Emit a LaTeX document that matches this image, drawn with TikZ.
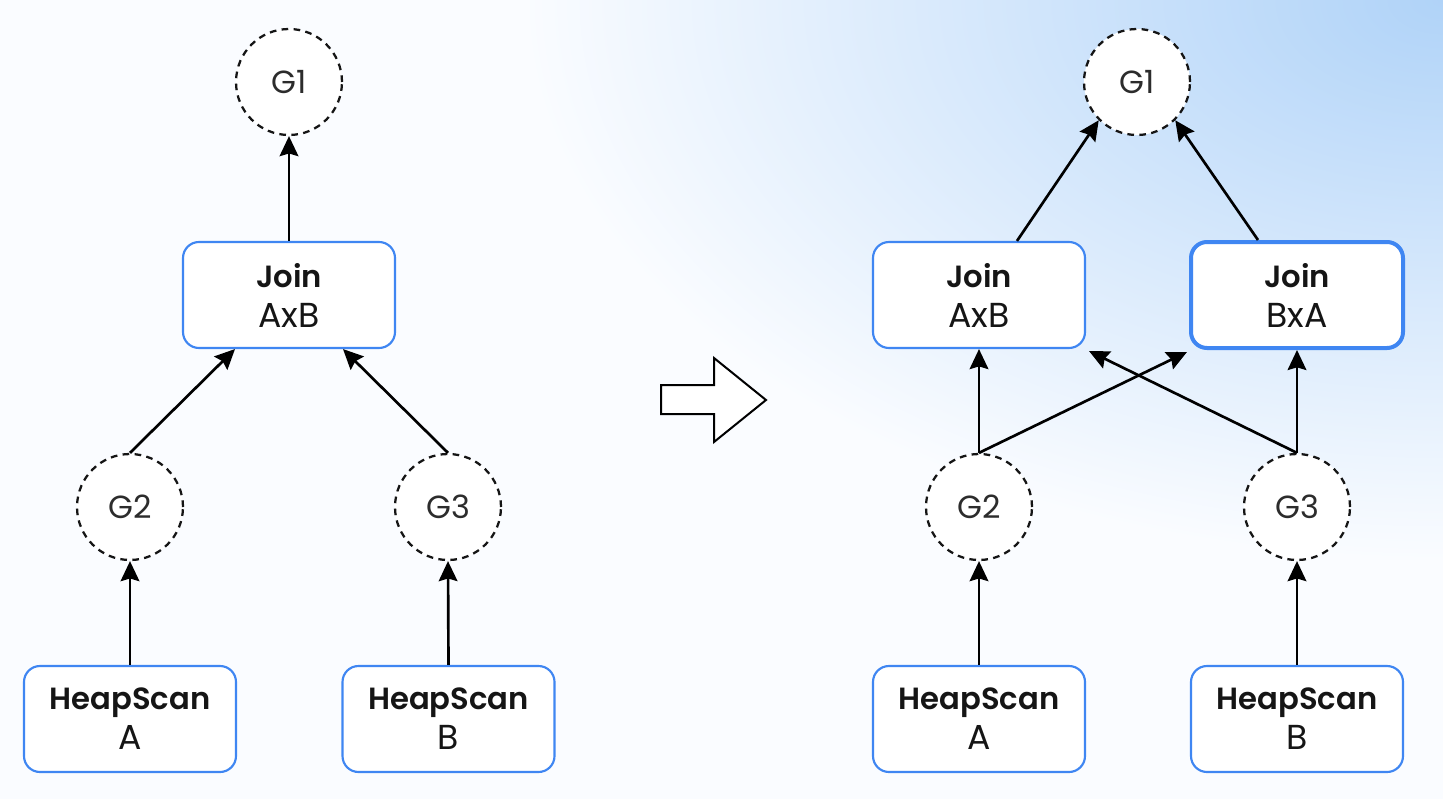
\documentclass[tikz,border=0pt]{standalone}
\usepackage{fontspec}
\setmainfont{Poppins}[BoldFont={Poppins SemiBold}]
\usetikzlibrary{arrows.meta,calc}
\definecolor{boxblue}{HTML}{3F86F2}
\definecolor{bgpale}{HTML}{FAFCFF}
\definecolor{bgblue}{HTML}{B0D3F8}
\definecolor{ink}{HTML}{151515}
\newcommand{\ttl}[1]{{\fontsize{23}{30}\selectfont\bfseries #1}}
\tikzset{
  opbox/.style={draw=boxblue, line width=1.6pt, fill=white, rounded corners=12pt,
    minimum width=159pt, minimum height=79.5pt, align=center, inner sep=0pt,
    font=\fontsize{26}{30}\selectfont, text=ink},
  opboxbold/.style={opbox, line width=3pt},
  grp/.style={draw=ink, circle, dash pattern=on 5pt off 4pt, line width=1.7pt, fill=white,
    minimum size=79.5pt, inner sep=0pt, font=\fontsize{24}{28}\selectfont, text=ink!90},
  conn/.style={draw=black, line width=2pt, -{Stealth[length=15pt,width=14pt,inset=2pt]}},
  bigarrow/.style={draw=black, line width=1.5pt, fill=white, line join=miter}
}
\begin{document}
\begin{tikzpicture}[x=0.75pt,y=-0.75pt]
\useasboundingbox (0,0) rectangle (1443,799);
\fill[bgpale] (0,0) rectangle (1443,799);
\begin{scope}
\clip (0,0) rectangle (1443,799);
\shade[inner color=bgblue, outer color=bgpale] (1443,0) ellipse [x radius=920, y radius=560];
\end{scope}

% left diagram
\node[grp] (g1l) at (289,82) {G1};
\node[opbox] (jl) at (289,295) {\ttl{Join}\\AxB};
\node[grp] (g2l) at (130,507) {G2};
\node[grp] (g3l) at (448,507) {G3};
\node[opbox] (hal) at (130,719) {\ttl{HeapScan}\\A};
\node[opbox] (hbl) at (448.5,719) {\ttl{HeapScan}\\B};

\draw[conn] (jl.north) -- (g1l.south);
\draw[conn] (g2l.north) -- ($(jl.south)+(-54,0)$);
\draw[conn] (g3l.north) -- ($(jl.south)+(54,0)$);
\draw[conn] (hal.north) -- (g2l.south);
\draw[conn] (hbl.north) -- (g3l.south);

% transformation arrow
\draw[bigarrow] (661,385) -- (714,385) -- (714,358) -- (766,400) -- (714,442) -- (714,414) -- (661,414) -- cycle;

% right diagram
\node[grp] (g1r) at (1137,82) {G1};
\node[opbox] (jab) at (979,295) {\ttl{Join}\\AxB};
\node[opboxbold] (jba) at (1297,295) {\ttl{Join}\\BxA};
\node[grp] (g2r) at (979,507) {G2};
\node[grp] (g3r) at (1297,507) {G3};
\node[opbox] (har) at (979,719) {\ttl{HeapScan}\\A};
\node[opbox] (hbr) at (1297,719) {\ttl{HeapScan}\\B};

\draw[conn] ($(jab.north)+(38,0)$) -- (g1r.225);
\draw[conn] ($(jba.north)+(-39,0)$) -- (g1r.-45);
\draw[conn] (g2r.north) -- (jab.south);
\draw[conn] (g2r.north) -- ($(jba.south west)+(-2,2)$);
\draw[conn] (g3r.north) -- (jba.south);
\draw[conn] (g3r.north) -- ($(jab.south east)+(3,2)$);
\draw[conn] (har.north) -- (g2r.south);
\draw[conn] (hbr.north) -- (g3r.south);
\end{tikzpicture}
\end{document}
